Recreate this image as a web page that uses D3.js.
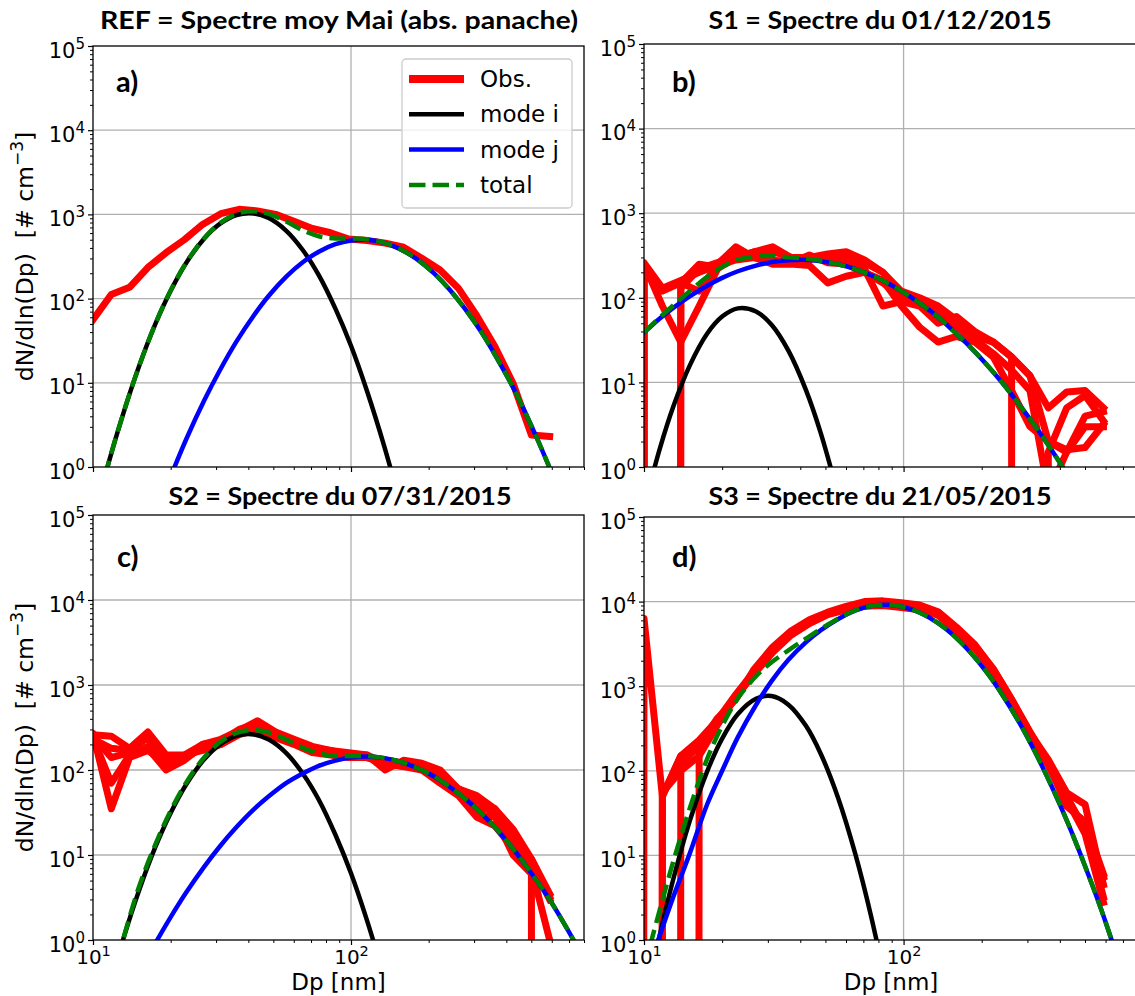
<!DOCTYPE html>
<html>
<head>
<meta charset="utf-8">
<script src="https://cdn.jsdelivr.net/npm/d3@7"></script>
<style>
  body { margin: 0; background: #fff; }
  svg { display: block; }
</style>
</head>
<body>
<svg id="fig" width="1135" height="996"></svg>
<script>
// ---------- data ----------
var panelTitles = ["REF = Spectre moy Mai (abs. panache)", "S1 = Spectre du 01/12/2015",
                   "S2 = Spectre du 07/31/2015", "S3 = Spectre du 21/05/2015"];
var panelLetters = ["a)", "b)", "c)", "d)"];

var yMajor = [1, 10, 100, 1000, 10000, 100000];
var yExp = ["0", "1", "2", "3", "4", "5"];
var xMajor = [10, 100];
var xExp = ["1", "2"];
var xMinor = [20, 30, 40, 50, 60, 70, 80, 90, 200, 300, 400, 500, 600, 700, 800];

var legendLabels = ["Obs.", "mode i", "mode j", "total"];

// diameters (nm) used for the fitted modes
var modeDp = [10, 11.5, 13, 15, 17.5, 20, 23, 27, 31, 36, 42, 48, 56, 65, 75, 87, 100, 115, 135, 155,
              180, 210, 240, 280, 320, 370, 430, 500, 580, 670, 780];

var modeI_a = [0.22, 1.13, 4.0, 15, 51, 124, 267, 519, 771, 984, 1028, 905, 643, 378, 190, 76, 27.5, 8.2, 1.7, 0.37,
               null, null, null, null, null, null, null, null, null, null, null];
var modeJ_a = [null, null, null, null, 0.27, 0.77, 2.15, 6.2, 14, 31, 63, 108, 181, 270, 361, 443, 491, 499, 458, 387,
               294, 199, 130, 72, 40, 19, 8.2, 3.1, 1.09, 0.36, null];
var total_a = [0.22, 1.13, 4.0, 15, 51.3, 125, 269, 525, 785, 1015, 1091, 1013, 824, 648, 551, 519, 518, 507, 460, 387,
               294, 199, 130, 72, 40, 19, 8.2, 3.1, 1.09, 0.36, null];

var modeI_b = [0.33, 1.64, 5.3, 15.8, 37.6, 60, 75, 69, 48, 23.7, 8.2, 2.5, 0.46, null, null, null, null, null, null, null,
               null, null, null, null, null, null, null, null, null, null, null];
var modeJ_b = [38.7, 56.8, 76.6, 104, 139, 172, 206, 240, 264, 278, 281, 271, 249, 219, 185, 149, 116, 87, 60, 41,
               26.5, 16, 9.9, 5.4, 3.1, 1.62, 0.79, 0.36, null, null, null];
var total_b = [39, 58.4, 81.9, 120, 177, 232, 281, 309, 312, 302, 289, 274, 249, 219, 185, 149, 116, 87, 60, 41,
               26.5, 16, 9.9, 5.4, 3.1, 1.62, 0.79, 0.36, null, null, null];

var modeI_c = [0.05, 0.26, 0.95, 3.65, 12.7, 31.3, 68, 134, 199, 253, 262, 228, 159, 91, 44.7, 17.3, 6.1, 1.75, 0.35, null,
               null, null, null, null, null, null, null, null, null, null, null];
var modeJ_c = [null, null, null, 0.39, 0.93, 1.86, 3.64, 7.3, 12.6, 21.3, 34.4, 49, 70, 91, 112, 129, 140, 144, 138, 125,
               106, 84, 64, 44.7, 30.8, 19.5, 11.3, 6.1, 3.2, 1.56, 0.69];
var total_c = [0.05, 0.26, 0.95, 4.04, 13.6, 33.2, 71.6, 141, 212, 274, 296, 277, 229, 182, 157, 146, 146, 146, 138, 125,
               106, 84, 64, 44.7, 30.8, 19.5, 11.3, 6.1, 3.2, 1.56, 0.69];

var modeI_d = [0.15, 1.14, 5.4, 25.4, 98, 240, 469, 711, 764, 605, 342, 158, 47.5, 10.7, 1.9, 0.23, null, null, null, null,
               null, null, null, null, null, null, null, null, null, null, null];
var modeJ_d = [0.31, 1.13, 3.3, 10.5, 40, 100, 250, 600, 1150, 2050, 3300, 4600, 6237, 7834, 8873, 9170, 8630, 7430, 5640, 4040,
               2550, 1435, 794, 366, 170, 68, 23.9, 7.5, 2.2, 0.59, null];
var total_d = [0.46, 2.27, 8.7, 35.9, 138, 340, 719, 1311, 1914, 2655, 3642, 4758, 6285, 7845, 8875, 9170, 8630, 7430, 5640, 4040,
               2550, 1435, 794, 366, 170, 68, 23.9, 7.5, 2.2, 0.59, null];

// SMPS bin diameters (nm) of the observed spectra
var obsDp = [8.5, 10.0, 11.77, 13.86, 16.31, 19.2, 22.59, 26.59, 31.3, 36.84, 43.37, 51.05, 60.09, 70.73, 83.25,
             98.0, 115.3, 135.8, 159.8, 188.1, 221.4, 260.6, 306.8, 361.1, 425.0, 500.3, 588.8];

var obs_a = [
  [30, 56, 112, 136, 234, 351, 500, 760, 1020, 1150, 1100, 1000, 830, 680, 605, 510, 490, 456, 408, 302, 219, 133, 63, 27, 9.8, 2.4, 2.3]
];
var obs_b = [
  [150, 250, 120, 150, 250, 230, 300, 350, 400, 300, 300, 330, 350, 280, 200, 120, 100, 80, 55, 38, 30, 20, 12, 5, 7.7, 8, 5],
  [150, 240, 0, 150, 120, 250, 400, 300, 250, 250, 240, 150, 180, 200, 160, 80, 45, 30, 35, 30, 20, 8, 3, 2, 1.6, 1.7, 3.2],
  [0, 250, 80, 30, 80, 220, 300, 350, 350, 300, 300, 300, 300, 260, 200, 110, 95, 70, 50, 35, 30, 20, 12, 2, 1.5, 4, 4.5],
  [150, 230, 0, 130, 220, 260, 320, 330, 270, 270, 280, 320, 280, 220, 80, 90, 80, 50, 60, 40, 30, 20, 0, 1.5, 5, 7, 3.5],
  [150, 260, 130, 160, 200, 240, 280, 300, 280, 260, 320, 260, 250, 200, 150, 100, 85, 65, 45, 32, 22, 14, 8, 0.5, 1.5, 3, 3]
];
var obs_c = [
  [260, 260, 250, 180, 280, 150, 150, 200, 220, 300, 350, 250, 220, 170, 160, 150, 150, 100, 130, 120, 100, 60, 50, 35, 20, 9, 3.5],
  [250, 250, 140, 160, 180, 100, 130, 190, 210, 280, 320, 240, 200, 160, 150, 140, 140, 130, 120, 110, 80, 55, 30, 28, 10, 6, 0],
  [240, 240, 70, 150, 190, 130, 140, 180, 200, 260, 300, 260, 210, 180, 170, 160, 150, 120, 110, 100, 70, 50, 28, 22, 12, 7, 1],
  [270, 270, 35, 140, 170, 120, 140, 200, 230, 290, 380, 280, 230, 190, 170, 150, 140, 130, 120, 100, 90, 60, 35, 35, 18, 8, 3],
  [230, 230, 180, 170, 240, 110, 150, 170, 200, 270, 330, 270, 210, 180, 160, 150, 140, 120, 110, 110, 90, 60, 45, 30, 15, 9, 3.2]
];
var obs_d = [
  [0, 6300, 50, 150, 230, 400, 800, 1500, 2700, 4300, 5800, 7200, 8500, 9500, 9800, 9300, 8600, 7200, 4800, 3000, 1600, 700, 290, 125, 50, 20, 5.5],
  [0, 0, 55, 100, 150, 350, 750, 1400, 2500, 4000, 5500, 7000, 8000, 8800, 9000, 8500, 8000, 6900, 4500, 2800, 1500, 650, 260, 115, 42, 22, 3.2],
  [0, 0, 0, 120, 200, 420, 700, 1600, 2900, 4500, 6100, 7500, 8800, 10000, 10200, 9700, 9100, 7600, 5000, 3100, 1600, 700, 280, 135, 55, 40, 4.5],
  [0, 0, 0, 0, 180, 380, 760, 1500, 2700, 4200, 5700, 7300, 8500, 9500, 9600, 9200, 8600, 7100, 4700, 2900, 1550, 680, 270, 120, 46, 18, 2.8],
  [0, 0, 50, 150, 180, 360, 740, 1450, 2600, 4100, 5600, 7100, 8300, 9200, 9400, 9000, 8400, 7000, 4700, 2950, 1520, 670, 270, 125, 38, 25, 6]
];

var obsSets = [obs_a, obs_b, obs_c, obs_d];
var modeISets = [modeI_a, modeI_b, modeI_c, modeI_d];
var modeJSets = [modeJ_a, modeJ_b, modeJ_c, modeJ_d];
var totalSets = [total_a, total_b, total_c, total_d];

// ---------- layout ----------
var layout = [
  { left: 93,  width: 491, top: 46,  bottom: 467, titleX: 339, titleY: 29,  titleW: 478, letterX: 116, letterY: 92,  xLabels: false, yLabel: true },
  { left: 644, width: 494, top: 44,  bottom: 467, titleX: 880, titleY: 29,  titleW: 343, letterX: 672, letterY: 92,  xLabels: false, yLabel: false },
  { left: 93,  width: 491, top: 515, bottom: 940, titleX: 340, titleY: 505, titleW: 343, letterX: 117, letterY: 567, xLabels: true,  yLabel: true },
  { left: 644, width: 494, top: 517, bottom: 940, titleX: 880, titleY: 505, titleW: 343, letterX: 672, letterY: 567, xLabels: true,  yLabel: false }
];

var svg = d3.select("#fig");
var defs = svg.append("defs");

var RED = "#ff0000", BLUE = "#0000ff", GREEN = "#008000";

draw_panel = function (k) {
  var p = layout[k];
  var x = d3.scaleLog().domain([10, 800]).range([p.left, p.left + p.width]);
  var y = d3.scaleLog().domain([1, 1e5]).range([p.bottom, p.top]);
  var g = svg.append("g");

  defs.append("clipPath").attr("id", "clip" + k)
    .append("rect")
    .attr("x", p.left).attr("y", p.top)
    .attr("width", p.width).attr("height", p.bottom - p.top);

  // grid
  g.append("g").selectAll("line")
    .data(yMajor.slice(1, -1))
    .join("line")
    .attr("x1", p.left).attr("x2", p.left + p.width)
    .attr("y1", d => y(d)).attr("y2", d => y(d))
    .attr("stroke", "#b0b0b0").attr("stroke-width", 1.3);
  g.append("line")
    .attr("x1", x(100)).attr("x2", x(100))
    .attr("y1", p.top).attr("y2", p.bottom)
    .attr("stroke", "#b0b0b0").attr("stroke-width", 1.3);

  var plot = g.append("g").attr("clip-path", "url(#clip" + k + ")");

  // observed spectra (zeros fall off the log axis like matplotlib's clip)
  var obsLine = d3.line()
    .x((d, i) => x(obsDp[i]))
    .y(d => y(Math.max(d, 1e-300)));

  plot.append("g").selectAll("path")
    .data(obsSets[k])
    .join("path")
    .attr("d", obsLine)
    .attr("fill", "none")
    .attr("stroke", RED)
    .attr("stroke-width", 7)
    .attr("stroke-linejoin", "round")
    .attr("stroke-linecap", "square");

  var modeLine = d3.line()
    .defined(d => d != null)
    .x((d, i) => x(modeDp[i]))
    .y(d => y(d))
    .curve(d3.curveCatmullRom.alpha(0.5));

  plot.append("path").datum(modeISets[k])
    .attr("d", modeLine).attr("fill", "none")
    .attr("stroke", "#000").attr("stroke-width", 4.5).attr("stroke-linecap", "square");
  plot.append("path").datum(modeJSets[k])
    .attr("d", modeLine).attr("fill", "none")
    .attr("stroke", BLUE).attr("stroke-width", 4.5).attr("stroke-linecap", "square");
  plot.append("path").datum(totalSets[k])
    .attr("d", modeLine).attr("fill", "none")
    .attr("stroke", GREEN).attr("stroke-width", 4.5)
    .attr("stroke-dasharray", "16.5,7");

  // axes
  var yAxis = d3.axisLeft(y).tickValues(yMajor).tickSize(5).tickPadding(3).tickFormat(() => "10");
  var yMinorAxis = d3.axisLeft(y)
    .tickValues(yMajor.slice(0, -1).flatMap(d => [2, 3, 4, 5, 6, 7, 8, 9].map(m => m * d)))
    .tickSize(3).tickFormat("");

  g.append("g")
    .attr("transform", `translate(${p.left},0)`)
    .call(yMinorAxis)
    .call(a => a.select(".domain").remove())
    .call(a => a.selectAll("line").attr("stroke-width", 1));

  g.append("g")
    .attr("transform", `translate(${p.left},0)`)
    .call(yAxis)
    .attr("font-family", "DejaVu Sans")
    .attr("font-size", 21)
    .call(a => a.select(".domain").remove())
    .call(a => a.selectAll("line").attr("stroke-width", 1.2))
    .call(a => a.selectAll(".tick text")
      .attr("dy", 11)
      .attr("fill", "#000")
      .each(function (d, i) {
        d3.select(this).append("tspan")
          .attr("dy", -9).attr("font-size", 15)
          .text(yExp[i]);
      }));

  var xAxis = d3.axisBottom(x).tickValues(xMajor).tickSize(5).tickPadding(3)
    .tickFormat(p.xLabels ? () => "10" : () => "");
  var xMinorAxis = d3.axisBottom(x).tickValues(xMinor).tickSize(3).tickFormat("");

  g.append("g")
    .attr("transform", `translate(0,${p.bottom})`)
    .call(xMinorAxis)
    .call(a => a.select(".domain").remove())
    .call(a => a.selectAll("line").attr("stroke-width", 1));

  g.append("g")
    .attr("transform", `translate(0,${p.bottom})`)
    .call(xAxis)
    .attr("font-family", "DejaVu Sans")
    .attr("font-size", 20)
    .call(a => a.select(".domain").remove())
    .call(a => a.selectAll("line").attr("stroke-width", 1.2))
    .call(a => a.selectAll(".tick text")
      .attr("dy", 16)
      .attr("fill", "#000")
      .each(function (d, i) {
        if (!p.xLabels) return;
        d3.select(this).append("tspan")
          .attr("dy", -8).attr("font-size", 14.5)
          .text(xExp[i]);
      }));

  // spines
  g.append("rect")
    .attr("x", p.left).attr("y", p.top)
    .attr("width", p.width).attr("height", p.bottom - p.top)
    .attr("fill", "none").attr("stroke", "#000").attr("stroke-width", 1.3);

  // title and panel letter
  svg.append("text")
    .attr("x", p.titleX).attr("y", p.titleY)
    .attr("text-anchor", "middle")
    .attr("font-family", "Lato").attr("font-weight", "bold").attr("font-size", 24)
    .attr("textLength", p.titleW).attr("lengthAdjust", "spacingAndGlyphs")
    .text(panelTitles[k]);

  svg.append("text")
    .attr("x", p.letterX).attr("y", p.letterY)
    .attr("font-family", "Lato").attr("font-weight", "bold").attr("font-size", 29)
    .text(panelLetters[k]);

  if (p.yLabel) {
    var cy = (p.top + p.bottom) / 2;
    var t = svg.append("text")
      .attr("transform", `translate(33,${cy}) rotate(-90)`)
      .attr("text-anchor", "middle")
      .attr("font-family", "DejaVu Sans").attr("font-size", 23.5);
    t.append("tspan").text("dN/dln(Dp)\u00a0\u00a0[#\u00a0cm");
    t.append("tspan").attr("dy", -10).attr("font-size", 17).text("\u22123");
    t.append("tspan").attr("dy", 10).text("]");
  }

  if (p.xLabels) {
    svg.append("text")
      .attr("x", p.left + p.width / 2)
      .attr("y", 990)
      .attr("text-anchor", "middle")
      .attr("font-family", "DejaVu Sans").attr("font-size", 23)
      .text("Dp [nm]");
  }

  if (k === 0) draw_legend();
}

draw_legend = function () {
  var lg = svg.append("g").attr("transform", "translate(402,59)");
  lg.append("rect")
    .attr("width", 170).attr("height", 149).attr("rx", 4)
    .attr("fill", "#fff").attr("fill-opacity", 0.8)
    .attr("stroke", "#cccccc").attr("stroke-width", 1.3);

  var colors = [RED, "#000", BLUE, GREEN];
  var widths = [8, 4.5, 4.5, 4.5];
  var rows = lg.selectAll("g.row")
    .data(legendLabels)
    .join("g")
    .attr("class", "row")
    .attr("transform", (d, i) => `translate(0,${20 + i * 35.3})`);

  rows.append("line")
    .attr("x1", 7).attr("x2", 62)
    .attr("stroke", (d, i) => colors[i])
    .attr("stroke-width", (d, i) => widths[i])
    .attr("stroke-dasharray", (d, i) => i === 3 ? "16.5,7" : null);

  rows.append("text")
    .attr("x", 78).attr("dy", 8)
    .attr("font-family", "DejaVu Sans").attr("font-size", 23)
    .text(d => d);
}

for (var k = 0; k < 4; k++) draw_panel(k);
</script>
</body>
</html>
